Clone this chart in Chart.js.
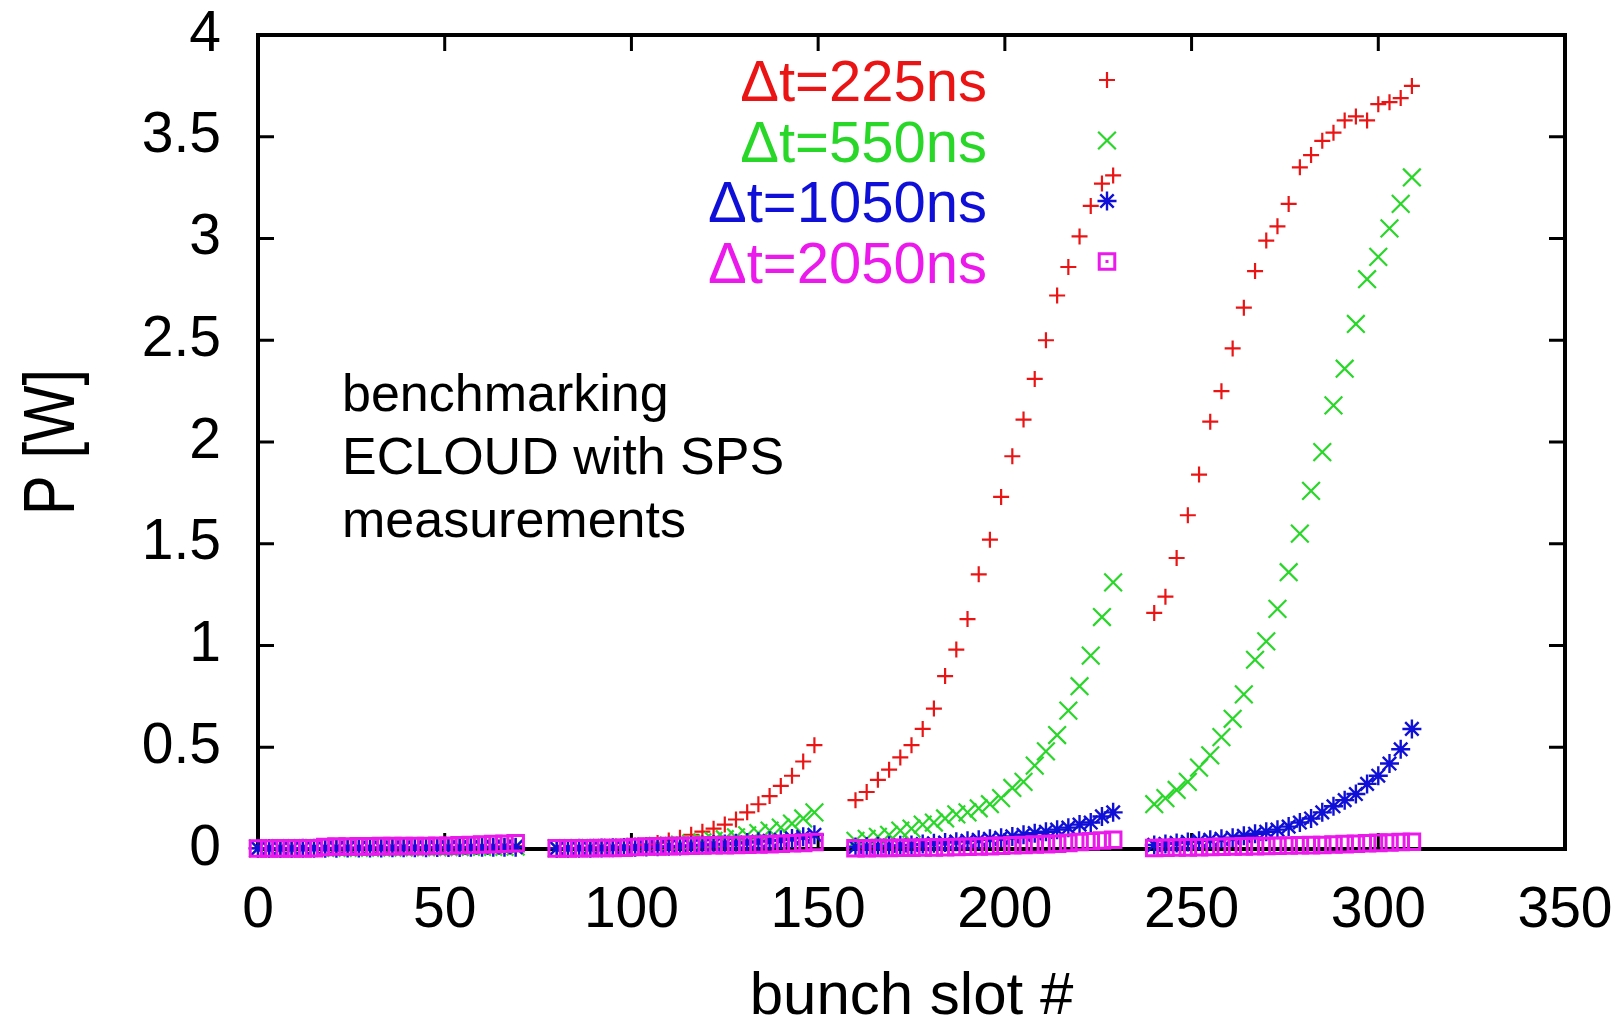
<!DOCTYPE html>
<html>
<head>
<meta charset="utf-8">
<title>Heat load per bunch slot</title>
<script src="https://cdn.jsdelivr.net/npm/chart.js@4.4.1/dist/chart.umd.min.js"></script>
<style>
  html, body { margin: 0; padding: 0; background: #ffffff; }
  #wrap { width: 1621px; height: 1021px; }
</style>
</head>
<body>
<div id="wrap"><canvas id="chart" width="1621" height="1021"></canvas></div>
<script>
// Bunch slots of the four batches (one point every third slot)
const bunchSlots = [
  0, 3, 6, 9, 12, 15, 18, 21, 24, 27, 30, 33, 36, 39, 42, 45, 48, 51, 54, 57, 60, 63, 66, 69,
  80, 83, 86, 89, 92, 95, 98, 101, 104, 107, 110, 113, 116, 119, 122, 125, 128, 131, 134, 137, 140, 143, 146, 149,
  160, 163, 166, 169, 172, 175, 178, 181, 184, 187, 190, 193, 196, 199, 202, 205, 208, 211, 214, 217, 220, 223, 226, 229,
  240, 243, 246, 249, 252, 255, 258, 261, 264, 267, 270, 273, 276, 279, 282, 285, 288, 291, 294, 297, 300, 303, 306, 309
];

// Power P [W] for each bunch slot, one array per gap length
const power225ns = [
  0.004, 0.004, 0.004, 0.005, 0.005, 0.005, 0.005, 0.006, 0.006, 0.006, 0.007, 0.007, 0.007, 0.008, 0.008, 0.008, 0.009, 0.009, 0.010, 0.010, 0.011, 0.012, 0.013, 0.014,
  0.005, 0.005, 0.006, 0.007, 0.008, 0.010, 0.012, 0.016, 0.020, 0.030, 0.042, 0.055, 0.070, 0.085, 0.100, 0.120, 0.145, 0.180, 0.220, 0.260, 0.310, 0.360, 0.430, 0.510,
  0.24, 0.28, 0.34, 0.39, 0.45, 0.51, 0.59, 0.69, 0.85, 0.98, 1.13, 1.35, 1.52, 1.73, 1.93, 2.11, 2.31, 2.50, 2.72, 2.86, 3.01, 3.16, 3.27, 3.31,
  1.16, 1.24, 1.43, 1.64, 1.84, 2.10, 2.25, 2.46, 2.66, 2.84, 2.99, 3.06, 3.17, 3.35, 3.41, 3.48, 3.52, 3.58, 3.60, 3.58, 3.66, 3.67, 3.69, 3.75
];
const power550ns = [
  0.003, 0.003, 0.004, 0.004, 0.004, 0.005, 0.005, 0.005, 0.006, 0.006, 0.006, 0.007, 0.007, 0.007, 0.008, 0.008, 0.008, 0.009, 0.009, 0.010, 0.010, 0.011, 0.011, 0.012,
  0.004, 0.004, 0.005, 0.005, 0.006, 0.007, 0.008, 0.010, 0.012, 0.015, 0.018, 0.022, 0.027, 0.033, 0.040, 0.048, 0.057, 0.067, 0.078, 0.090, 0.105, 0.125, 0.150, 0.180,
  0.04, 0.05, 0.06, 0.07, 0.09, 0.10, 0.12, 0.13, 0.15, 0.17, 0.18, 0.20, 0.22, 0.25, 0.30, 0.33, 0.41, 0.48, 0.56, 0.68, 0.80, 0.95, 1.14, 1.31,
  0.22, 0.25, 0.29, 0.33, 0.40, 0.46, 0.55, 0.64, 0.76, 0.93, 1.02, 1.18, 1.36, 1.55, 1.76, 1.95, 2.18, 2.36, 2.58, 2.80, 2.91, 3.05, 3.17, 3.30
];
const power1050ns = [
  0.003, 0.003, 0.003, 0.003, 0.004, 0.004, 0.004, 0.004, 0.005, 0.005, 0.005, 0.005, 0.006, 0.006, 0.006, 0.006, 0.007, 0.007, 0.007, 0.008, 0.008, 0.008, 0.009, 0.009,
  0.003, 0.003, 0.004, 0.004, 0.005, 0.006, 0.007, 0.008, 0.010, 0.011, 0.013, 0.015, 0.017, 0.020, 0.022, 0.025, 0.028, 0.032, 0.036, 0.040, 0.045, 0.052, 0.060, 0.070,
  0.010, 0.012, 0.014, 0.016, 0.018, 0.020, 0.024, 0.028, 0.032, 0.036, 0.040, 0.045, 0.050, 0.055, 0.062, 0.070, 0.078, 0.085, 0.095, 0.105, 0.120, 0.130, 0.160, 0.180,
  0.020, 0.025, 0.030, 0.035, 0.040, 0.045, 0.050, 0.055, 0.065, 0.075, 0.085, 0.095, 0.110, 0.130, 0.150, 0.180, 0.210, 0.240, 0.270, 0.320, 0.360, 0.420, 0.490, 0.590
];
const power2050ns = [
  0.002, 0.002, 0.003, 0.003, 0.003, 0.004, 0.010, 0.012, 0.012, 0.013, 0.013, 0.014, 0.014, 0.015, 0.015, 0.015, 0.016, 0.016, 0.018, 0.020, 0.022, 0.024, 0.026, 0.028,
  0.003, 0.003, 0.004, 0.004, 0.005, 0.005, 0.006, 0.010, 0.012, 0.013, 0.014, 0.015, 0.016, 0.017, 0.018, 0.019, 0.020, 0.021, 0.022, 0.024, 0.026, 0.028, 0.030, 0.034,
  0.004, 0.004, 0.005, 0.005, 0.006, 0.006, 0.007, 0.008, 0.009, 0.010, 0.011, 0.012, 0.014, 0.016, 0.018, 0.020, 0.022, 0.024, 0.026, 0.030, 0.034, 0.038, 0.042, 0.045,
  0.005, 0.006, 0.007, 0.008, 0.009, 0.010, 0.011, 0.012, 0.013, 0.014, 0.015, 0.016, 0.017, 0.018, 0.019, 0.020, 0.022, 0.024, 0.026, 0.028, 0.030, 0.032, 0.034, 0.036
];

const seriesNames = ['\u0394t=225ns', '\u0394t=550ns', '\u0394t=1050ns', '\u0394t=2050ns'];
const seriesValues = [power225ns, power550ns, power1050ns, power2050ns];

const xTickValues = [0, 50, 100, 150, 200, 250, 300, 350];
const xTickLabels = ['0', '50', '100', '150', '200', '250', '300', '350'];
const yTickValues = [0, 0.5, 1, 1.5, 2, 2.5, 3, 3.5, 4];
const yTickLabels = ['0', '0.5', '1', '1.5', '2', '2.5', '3', '3.5', '4'];

const xAxisTitle = 'bunch slot #';
const yAxisTitle = 'P [W]';
const noteLines = ['benchmarking', 'ECLOUD with SPS', 'measurements'];

const FONT = "'Liberation Sans', Arial, Helvetica, sans-serif";

// Marker look per series: plus, cross, asterisk, open square
const markerStyles = [
  { color: 'rgb(235,20,20)',  pointStyle: 'cross',    radius: 8,    width: 2.2 },
  { color: 'rgb(40,215,40)',  pointStyle: 'crossRot', radius: 12.5, width: 2.2 },
  { color: 'rgb(15,15,215)',  pointStyle: 'star',     radius: 9.5,  width: 2.4 },
  { color: 'rgb(235,25,235)', pointStyle: 'rect',     radius: 11,   width: 3 }
];

const datasets = seriesValues.map((vals, i) => ({
  label: seriesNames[i],
  data: bunchSlots.map((slot, j) => ({ x: slot, y: vals[j] })),
  showLine: false,
  pointStyle: markerStyles[i].pointStyle,
  pointRadius: markerStyles[i].radius,
  pointHoverRadius: markerStyles[i].radius,
  pointBorderColor: markerStyles[i].color,
  pointBackgroundColor: 'rgba(0,0,0,0)',
  pointBorderWidth: markerStyles[i].width,
  order: seriesValues.length - i,   // later series painted over earlier ones
  clip: false
}));

function drawKey(ctx, style, x, y) {
  ctx.save();
  ctx.strokeStyle = style.color;
  ctx.fillStyle = 'rgba(0,0,0,0)';
  ctx.lineWidth = style.width;
  const opts = { pointStyle: style.pointStyle, rotation: 0, radius: style.radius, borderWidth: style.width };
  if (Chart.helpers && typeof Chart.helpers.drawPoint === 'function') {
    Chart.helpers.drawPoint(ctx, opts, x, y);
  } else {
    const r = style.radius, d = r * Math.SQRT1_2;
    ctx.beginPath();
    if (style.pointStyle === 'cross' || style.pointStyle === 'star') {
      ctx.moveTo(x - r, y); ctx.lineTo(x + r, y); ctx.moveTo(x, y - r); ctx.lineTo(x, y + r);
    }
    if (style.pointStyle === 'crossRot' || style.pointStyle === 'star') {
      ctx.moveTo(x - d, y - d); ctx.lineTo(x + d, y + d); ctx.moveTo(x - d, y + d); ctx.lineTo(x + d, y - d);
    }
    if (style.pointStyle === 'rect') ctx.rect(x - d, y - d, 2 * d, 2 * d);
    ctx.stroke();
  }
  if (style.pointStyle === 'rect') {
    ctx.fillStyle = style.color;
    ctx.fillRect(x - 1.5, y - 1.5, 3, 3);
  }
  ctx.restore();
}

// rotated title: x of its anchor and baseline shift in the rotated frame
const yTitleAnchor = { x: 50, baselineOffset: 24 };

// Box frame with inward ticks, legend, note and the vertical axis title
const framePlugin = {
  id: 'frame',
  beforeDatasetsDraw(chart) {
    const { ctx, chartArea: { left, top, right, bottom }, scales: { x, y } } = chart;
    const tick = 16;
    ctx.save();
    ctx.strokeStyle = '#000';
    ctx.lineWidth = 4;
    ctx.strokeRect(left, top, right - left, bottom - top);
    ctx.lineWidth = 3;
    ctx.beginPath();
    xTickValues.forEach(v => {
      if (v <= x.min || v >= x.max) return;
      const px = x.getPixelForValue(v);
      ctx.moveTo(px, top); ctx.lineTo(px, top + tick);
      ctx.moveTo(px, bottom); ctx.lineTo(px, bottom - tick);
    });
    yTickValues.forEach(v => {
      if (v <= y.min || v >= y.max) return;
      const py = y.getPixelForValue(v);
      ctx.moveTo(left, py); ctx.lineTo(left + tick, py);
      ctx.moveTo(right, py); ctx.lineTo(right - tick, py);
    });
    ctx.stroke();

    // vertical axis title, slightly condensed lettering
    ctx.translate(yTitleAnchor.x, (y.top + y.bottom) / 2);
    ctx.rotate(-Math.PI / 2);
    ctx.scale(0.82, 1);
    ctx.fillStyle = '#000';
    ctx.font = '73px ' + FONT;
    ctx.textAlign = 'center';
    ctx.textBaseline = 'alphabetic';
    ctx.fillText(yAxisTitle, 0, yTitleAnchor.baselineOffset);
    ctx.restore();
  },
  afterDatasetsDraw(chart, args, opts) {
    const { ctx } = chart;
    ctx.save();
    // legend: right-aligned labels, marker to their right
    ctx.font = '58px ' + FONT;
    ctx.textAlign = 'right';
    ctx.textBaseline = 'alphabetic';
    seriesNames.forEach((name, i) => {
      const base = opts.legendTop + i * opts.legendStep;
      ctx.fillStyle = markerStyles[i].color;
      ctx.fillText(name, opts.legendTextRight, base);
      drawKey(ctx, markerStyles[i], opts.legendKeyX, base - 21);
    });
    // note
    ctx.fillStyle = '#000';
    ctx.textAlign = 'left';
    ctx.font = '52px ' + FONT;
    noteLines.forEach((line, i) => {
      ctx.fillText(line, opts.noteLeft, opts.noteTop + i * opts.noteStep);
    });
    ctx.restore();
  }
};

new Chart(document.getElementById('chart'), {
  type: 'scatter',
  data: { datasets },
  plugins: [framePlugin],
  options: {
    responsive: false,
    animation: false,
    devicePixelRatio: 1,
    layout: { padding: { top: 35, right: 56, bottom: 0, left: 0 } },
    plugins: {
      legend: { display: false },
      tooltip: { enabled: false },
      frame: {
        legendTop: 101, legendStep: 60.5, legendTextRight: 987, legendKeyX: 1107,
        noteLeft: 342, noteTop: 411, noteStep: 63
      }
    },
    scales: {
      x: {
        type: 'linear',
        min: 0, max: 350,
        afterBuildTicks: s => { s.ticks = xTickValues.map(v => ({ value: v })); },
        afterFit: s => { s.height = 172; s.paddingLeft = 0; s.paddingRight = 0; },
        ticks: {
          callback: v => xTickLabels[xTickValues.indexOf(v)],
          font: { family: FONT, size: 57 },
          color: '#000',
          padding: 28,
          maxRotation: 0,
          autoSkip: false
        },
        grid: { display: false, drawTicks: false },
        border: { display: false },
        title: {
          display: true,
          text: xAxisTitle,
          font: { family: FONT, size: 60, lineHeight: 0.8 },
          color: '#000',
          padding: { top: 0, bottom: 0 }
        }
      },
      y: {
        type: 'linear',
        min: 0, max: 4,
        afterBuildTicks: s => { s.ticks = yTickValues.map(v => ({ value: v })); },
        afterFit: s => { s.width = 258; s.paddingTop = 0; s.paddingBottom = 0; },
        ticks: {
          callback: v => yTickLabels[yTickValues.indexOf(v)],
          font: { family: FONT, size: 57 },
          color: '#000',
          padding: 37,
          autoSkip: false
        },
        grid: { display: false, drawTicks: false },
        border: { display: false },
        title: { display: false }
      }
    }
  }
});
</script>
</body>
</html>
